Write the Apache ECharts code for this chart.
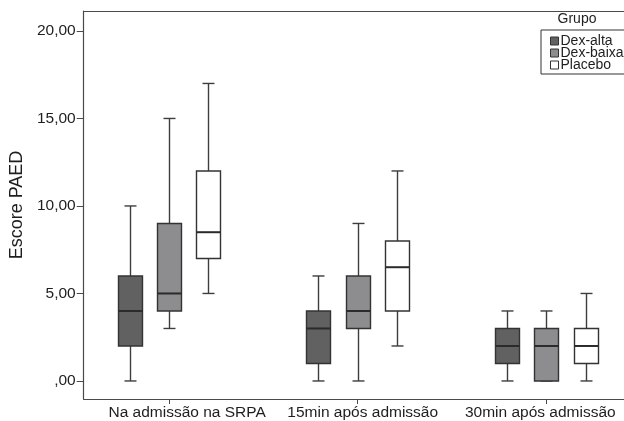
<!DOCTYPE html>
<html>
<head>
<meta charset="utf-8">
<script src="https://cdn.jsdelivr.net/npm/echarts@6/dist/echarts.min.js"></script>
<style>
html,body{margin:0;padding:0;background:#fff;}
#c{width:624px;height:421px;}
</style>
</head>
<body>
<div id="c"></div>
<script>
// ---- data ----
const categories = ['Na admissão na SRPA', '15min após admissão', '30min após admissão'];
const groups = ['Dex-alta', 'Dex-baixa', 'Placebo'];
// each row: [min, Q1, median, Q3, max] per category
const dexAlta  = [[0, 2, 4, 6, 10], [0, 1, 3, 4, 6], [0, 1, 2, 3, 4]];
const dexBaixa = [[3, 4, 5, 9, 15], [0, 3, 4, 6, 9], [0, 0, 2, 3, 4]];
const placebo  = [[5, 7, 8.5, 12, 17], [2, 4, 6.5, 8, 12], [0, 1, 2, 3, 5]];
const yTicks = [0, 5, 10, 15, 20];

// ---- styles ----
const fills = ['#616162', '#8d8d8f', '#ffffff'];
const stroke = '#333333';
const FONT = '"Liberation Sans", Arial, sans-serif';
const seriesOffset = [-0.2085, 0, 0.2085];
const labelShift = [18, 5, -6];
const X_MIN = -0.453, X_MAX = 2.412;

function renderItem(params, api) {
  const x = api.value(0);
  const pMin = api.coord([x, api.value(1)]);
  const pQ1 = api.coord([x, api.value(2)]);
  const pMed = api.coord([x, api.value(3)]);
  const pQ3 = api.coord([x, api.value(4)]);
  const pMax = api.coord([x, api.value(5)]);
  const cx = Math.round(pMed[0]) + 0.5;
  const hw = 12, cap = 6;
  const fill = fills[params.seriesIndex];
  const lineStyle = {stroke: '#3d3d3d', lineWidth: 1.4, fill: null};
  return {
    type: 'group',
    children: [
      {type: 'line', shape: {x1: cx, y1: pQ3[1], x2: cx, y2: pMax[1]}, style: lineStyle},
      {type: 'line', shape: {x1: cx, y1: pQ1[1], x2: cx, y2: pMin[1]}, style: lineStyle},
      {type: 'line', shape: {x1: cx - cap, y1: pMax[1], x2: cx + cap, y2: pMax[1]}, style: lineStyle},
      {type: 'line', shape: {x1: cx - cap, y1: pMin[1], x2: cx + cap, y2: pMin[1]}, style: lineStyle},
      {type: 'rect', shape: {x: cx - hw, y: pQ3[1], width: hw * 2, height: pQ1[1] - pQ3[1]},
        style: {fill: fill, stroke: stroke, lineWidth: 1.4}},
      {type: 'line', shape: {x1: cx - hw, y1: pMed[1], x2: cx + hw, y2: pMed[1]},
        style: {stroke: '#2a2a2a', lineWidth: 2}}
    ]
  };
}

const allData = [dexAlta, dexBaixa, placebo];
const series = allData.map((rows, s) => ({
  name: groups[s],
  type: 'custom',
  renderItem: renderItem,
  itemStyle: {color: fills[s], borderColor: stroke, borderWidth: 1},
  encode: {x: 0, y: [1, 2, 3, 4, 5]},
  clip: false,
  data: rows.map((r, g) => [g + seriesOffset[s]].concat(r))
}));

const rich = {};
labelShift.forEach((d, i) => {
  rich['l' + i] = {
    fontSize: 15.5, fontFamily: FONT, color: '#1e1e1e',
    padding: d >= 0 ? [0, 0, 0, 2 * d] : [0, -2 * d, 0, 0]
  };
});

const chart = echarts.init(document.getElementById('c'), null, {renderer: 'canvas'});
chart.setOption({
  animation: false,
  backgroundColor: '#ffffff',
  title: {
    text: 'Grupo', left: 577, top: 12, textAlign: 'center', padding: 0,
    textStyle: {fontSize: 14, fontWeight: 'normal', fontFamily: FONT, color: '#1e1e1e'}
  },
  legend: {
    orient: 'vertical', left: 541, top: 30,
    padding: [4, 1, 2, 9],
    borderColor: '#333', borderWidth: 1,
    itemWidth: 8, itemHeight: 8, itemGap: -2,
    icon: 'rect',
    textStyle: {fontSize: 14, fontFamily: FONT, color: '#1e1e1e', lineHeight: 12, padding: [0, 0, 0, -3]},
    data: groups.map((g, i) => ({name: g, itemStyle: {color: fills[i], borderColor: stroke, borderWidth: 1}}))
  },
  grid: {
    left: 81, right: 0, top: 11, bottom: 21,
    show: false,
    containLabel: false
  },
  xAxis: [{
    type: 'value',
    min: X_MIN, max: X_MAX,
    splitLine: {show: false},
    axisLine: {show: true, onZero: false, lineStyle: {color: '#4a4a4a', width: 1.2}},
    axisTick: {show: true, length: 5, lineStyle: {color: '#4a4a4a'}, customValues: [0, 1, 2]},
    axisLabel: {
      show: true, margin: 6, customValues: [0, 1, 2],
      formatter: function (v) {
        const i = Math.round(v);
        return '{l' + i + '|' + categories[i] + '}';
      },
      rich: rich
    }
  }, {
    type: 'value', position: 'top',
    min: X_MIN, max: X_MAX,
    splitLine: {show: false},
    axisLine: {show: true, onZero: false, lineStyle: {color: '#4a4a4a', width: 1.2}},
    axisTick: {show: false},
    axisLabel: {show: false}
  }],
  yAxis: {
    type: 'value',
    min: -1.03, max: 21.14,
    name: 'Escore PAED', nameLocation: 'middle', nameRotate: 90, nameGap: 52,
    nameTextStyle: {fontSize: 18, fontFamily: FONT, color: '#1e1e1e'},
    splitLine: {show: false},
    axisLine: {show: true, onZero: false, lineStyle: {color: '#4a4a4a', width: 1.2}},
    axisTick: {show: true, length: 7, lineStyle: {color: '#4a4a4a'}, customValues: yTicks},
    axisLabel: {
      show: true, margin: 8, customValues: yTicks,
      fontSize: 15.5, fontFamily: FONT, color: '#1e1e1e',
      formatter: function (v) {
        return v === 0 ? ',00' : v.toFixed(2).replace('.', ',');
      }
    }
  },
  series: series
});
</script>
</body>
</html>
